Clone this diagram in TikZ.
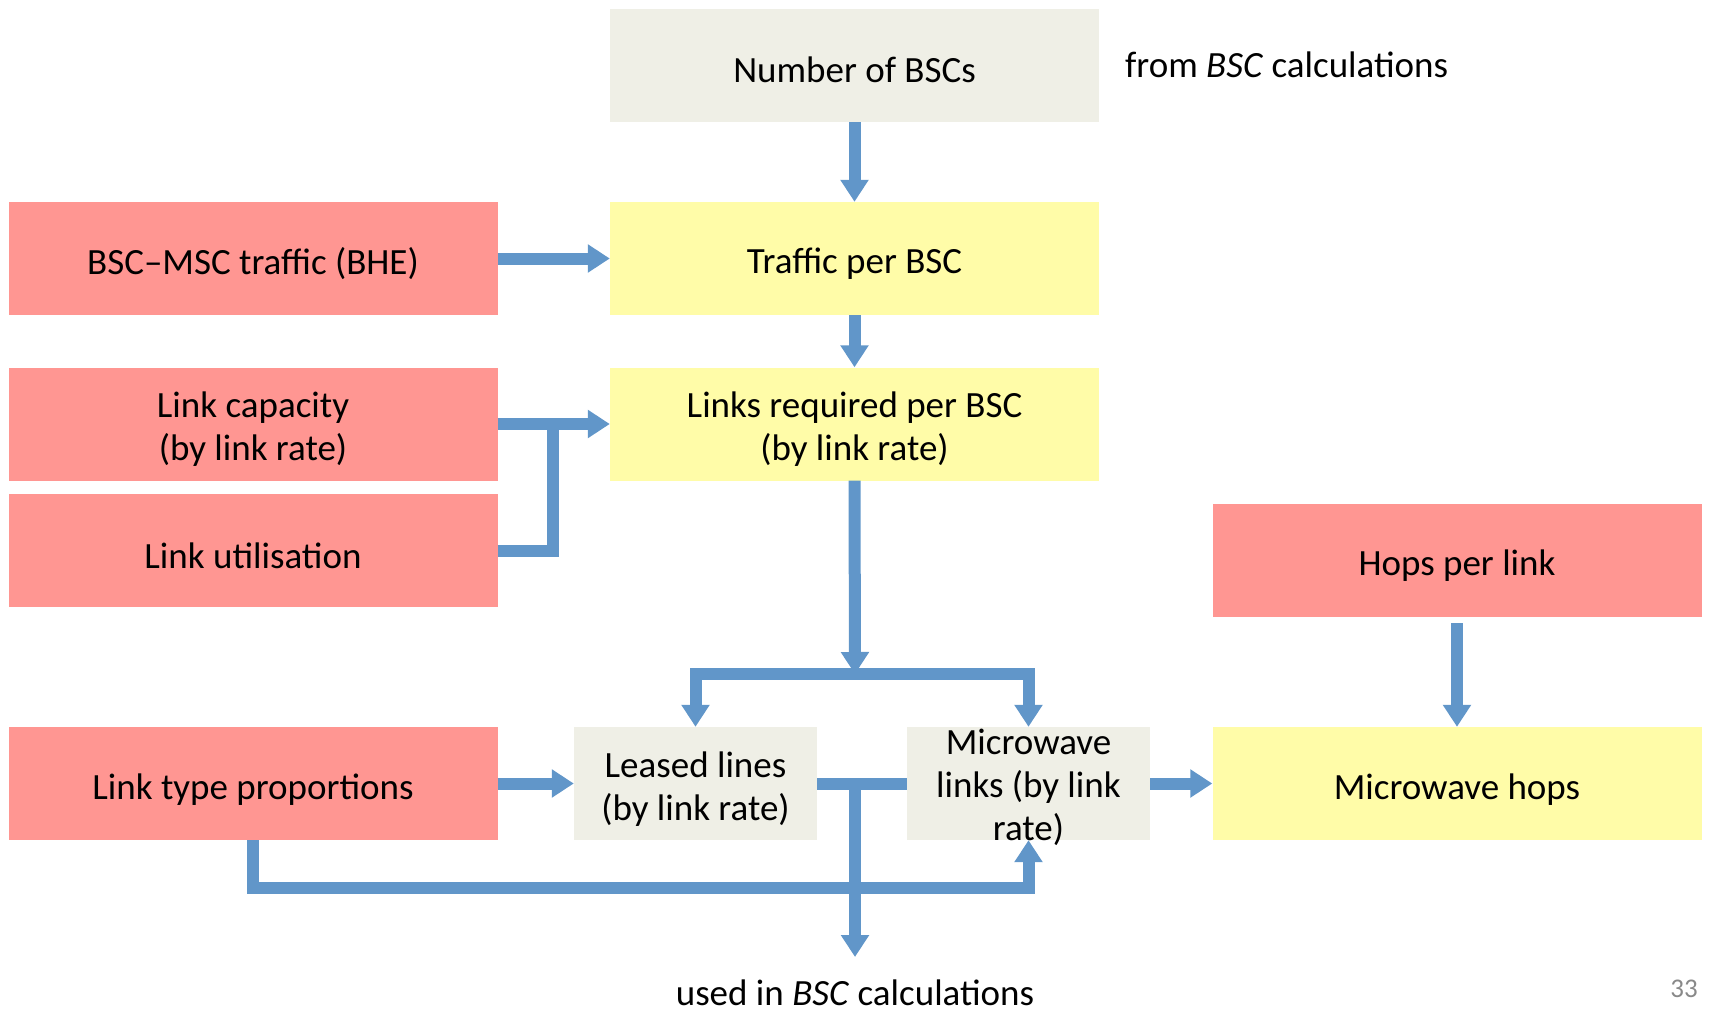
\documentclass[tikz,border=0pt]{standalone}
\usepackage{fontspec}
\setmainfont{Carlito}
\usetikzlibrary{arrows.meta,calc}
\definecolor{boxred}{RGB}{255,150,146}
\definecolor{boxyellow}{RGB}{255,252,168}
\definecolor{boxgray}{RGB}{239,239,230}
\definecolor{linkblue}{RGB}{97,150,201}
\definecolor{pagegray}{RGB}{137,137,137}
\tikzset{
  base/.style={inner sep=0pt},
  widebox/.style={base, minimum width=489pt, minimum height=113pt},
  smallbox/.style={base, minimum width=243pt, minimum height=113pt},
  redbox/.style={widebox, fill=boxred},
  yelbox/.style={widebox, fill=boxyellow},
  graybox/.style={widebox, fill=boxgray},
  txt/.style={inner sep=0pt, align=center, font=\fontsize{37}{43}\selectfont},
  conn/.style={draw=linkblue, line width=12pt, -{Triangle[length=22pt,width=27pt]}},
  plainconn/.style={draw=linkblue, line width=12pt},
  lbl/.style={inner sep=0pt, font=\fontsize{37}{43}\selectfont}
}
\begin{document}
\begin{tikzpicture}[x=1pt,y=-1pt]
\useasboundingbox (0,0) rectangle (1709,1017);
% boxes
\node[graybox] (nbsc) at (854.5,65.5) {};
\node[yelbox] (traffic) at (854.5,258.5) {};
\node[yelbox] (links) at (854.5,424) {};
\node[redbox] (bhe) at (253,258.5) {};
\node[redbox] (cap) at (253,424) {};
\node[redbox] (util) at (253,550.5) {};
\node[redbox] (ltp) at (253,783.5) {};
\node[smallbox, fill=boxgray] (leased) at (695.5,783.5) {};
\node[smallbox, fill=boxgray] (micro) at (1028.5,783.5) {};
\node[redbox] (hops) at (1457,560.5) {};
\node[yelbox] (mhops) at (1457,783.5) {};
% box texts
\node[txt] (nbsctxt) at ($(nbsc)+(0,4)$) {Number of BSCs};
\node[txt] (traffictxt) at ($(traffic)+(0,5)$) {Traffic per BSC};
\node[txt] (linkstxt) at ($(links)+(0,5)$) {Links required per BSC\\(by link rate)};
\node[txt] (bhetxt) at ($(bhe)+(0,5)$) {BSC–MSC traffic (BHE)};
\node[txt] (captxt) at ($(cap)+(0,5)$) {Link capacity\\(by link rate)};
\node[txt] (utiltxt) at ($(util)+(0,5)$) {Link utilisation};
\node[txt] (ltptxt) at ($(ltp)+(0,6)$) {Link type proportions};
\node[txt] (leasedtxt) at ($(leased)+(0,6)$) {Leased lines\\(by link rate)};
\node[txt] (microtxt) at ($(micro)+(0,4)$) {Microwave\\links (by link\\rate)};
\node[txt] (hopstxt) at ($(hops)+(0,5)$) {Hops per link};
\node[txt] (mhopstxt) at ($(mhops)+(0,6)$) {Microwave hops};
% free texts
\node[lbl, anchor=west] (from) at (1125,65) {from \textit{BSC} calculations};
\node[lbl, anchor=base] (used) at (855,1005) {used in \textit{BSC} calculations};
\node[inner sep=0pt, text=pagegray, font=\fontsize{27}{32}\selectfont] (page) at (1684,989) {33};
% coordinates
\coordinate (j1) at (553,424);
\coordinate (j2) at (855,674);
\coordinate (j3) at (855,783.5);
\coordinate (usedtip) at (855,957);
\coordinate (j5) at (1028.5,888);
% connectors
\draw[conn] (nbsc.south) -- (traffic.north);
\draw[conn] (traffic.south) -- (links.north);
\draw[conn] (bhe.east) -- (traffic.west);
\draw[conn] (cap.east) -- (links.west);
\draw[plainconn] (util.east) -| (j1);
\draw[conn] (links.south) -- (j2);
\draw[conn, {Triangle[length=22pt,width=27pt]}-{Triangle[length=22pt,width=27pt]}] (leased.north) |- (j2) -| (micro.north);
\draw[plainconn] (leased.east) -- (micro.west);
\draw[conn] (ltp.south) |- (j5) -- (micro.south);
\draw[conn] (j3) -- (usedtip);
\draw[conn] (ltp.east) -- (leased.west);
\draw[conn] (micro.east) -- (mhops.west);
\draw[conn, shorten <=6pt] (hops.south) -- (mhops.north);
\end{tikzpicture}
\end{document}
